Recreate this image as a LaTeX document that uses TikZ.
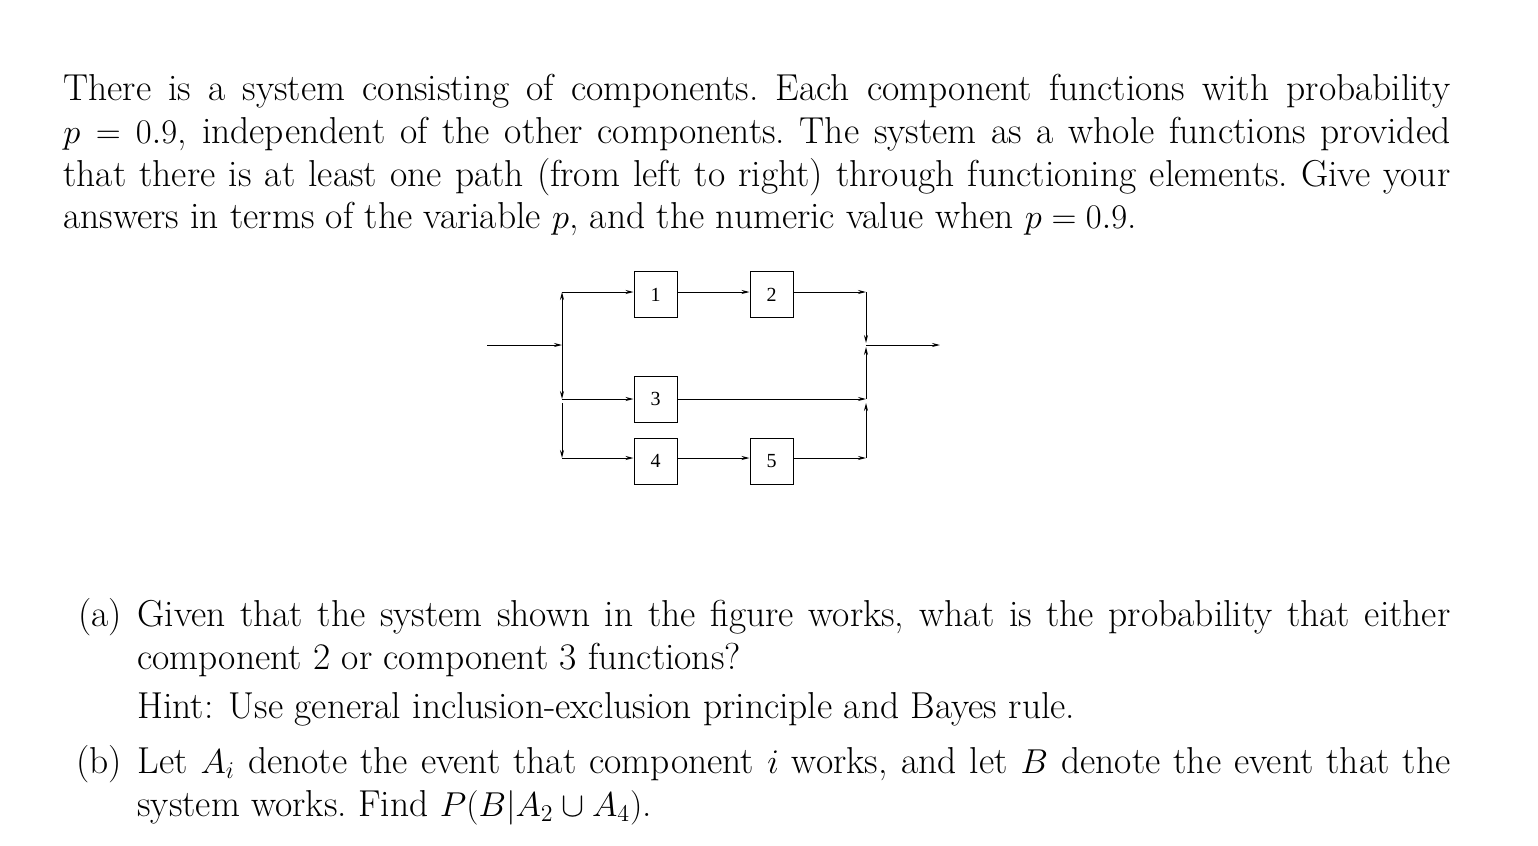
\documentclass[tikz,border=0pt]{standalone}
\usetikzlibrary{arrows.meta}
\usepackage{fontspec}
\newfontfamily\boxfont{Liberation Serif}
\begin{document}
\begin{tikzpicture}[x=0.5pt,y=-0.5pt,
  txt/.style={anchor=base west,inner sep=0pt,font=\fontsize{18.75}{22}\selectfont},
  comp/.style={draw,line width=0.5pt,minimum width=21.5pt,minimum height=23pt,inner sep=0pt,font=\boxfont\fontsize{10}{11}\selectfont},
  ln/.style={line width=0.5pt,-{Stealth[length=4pt,width=2pt]}}]
\useasboundingbox (0,0) rectangle (1538,846);
\node[txt] (l1) at (63,100) {\makebox[693.5pt][s]{There is a system consisting of components.\ Each component functions with probability}};
\node[txt] (l2) at (63,143) {\makebox[693.5pt][s]{$p=0.9$, independent of the other components.\ The system as a whole functions provided}};
\node[txt] (l3) at (63,186) {\makebox[693.5pt][s]{that there is at least one path (from left to right) through functioning elements.\ Give your}};
\node[txt] (l4) at (63,228) {answers in terms of the variable $p$, and the numeric value when $p=0.9$.};
% diagram
\node[comp] (c1) at (655.5,294.5) {1};
\node[comp] (c2) at (771.5,294.5) {2};
\node[comp] (c3) at (655.5,399) {3};
\node[comp] (c4) at (655.5,461) {4};
\node[comp] (c5) at (771.5,461) {5};
\coordinate (in) at (487,345);
\coordinate (sp) at (562,345);
\coordinate (st) at (562,292);
\coordinate (sm) at (562,399);
\coordinate (sl) at (562,403);
\coordinate (sb) at (562,458);
\coordinate (jt) at (866,292);
\coordinate (jo) at (866,345);
\coordinate (jm) at (866,399);
\coordinate (jl) at (866,403);
\coordinate (jb) at (866,458);
\coordinate (out) at (940,345);
\draw[ln] (in) -- (sp);
\draw[ln] (sp) -- (st);
\draw[ln] (sp) -- (sm);
\draw[ln] (sl) -- (sb);
\draw[ln] (st) -- (c1.west |- st);
\draw[ln] (c1.east |- st) -- (c2.west |- st);
\draw[ln] (c2.east |- st) -- (jt);
\draw[ln] (sm) -- (c3.west |- sm);
\draw[ln] (c3.east |- sm) -- (jm);
\draw[ln] (sb) -- (c4.west |- sb);
\draw[ln] (c4.east |- sb) -- (c5.west |- sb);
\draw[ln] (c5.east |- sb) -- (jb);
\draw[ln] (jt) -- ([yshift=1pt]jo);
\draw[ln] (jm) -- ([yshift=-1pt]jo);
\draw[ln] (jb) -- (jl);
\draw[ln] (jo) -- (out);
% questions
\node[txt] (qa) at (78,626) {(a)};
\node[txt] (qa1) at (137,626) {\makebox[656.5pt][s]{Given that the system shown in the figure works, what is the probability that either}};
\node[txt] (qa2) at (137,669) {component 2 or component 3 functions?};
\node[txt] (qa3) at (137,718) {Hint: Use general inclusion-exclusion principle and Bayes rule.};
\node[txt] (qb) at (76,773) {(b)};
\node[txt] (qb1) at (137,773) {\makebox[656.5pt][s]{Let $A_i$ denote the event that component $i$ works, and let $B$ denote the event that the}};
\node[txt] (qb2) at (137,816) {system works.\ Find $P(B|A_2\cup A_4)$.};
\end{tikzpicture}
\end{document}
